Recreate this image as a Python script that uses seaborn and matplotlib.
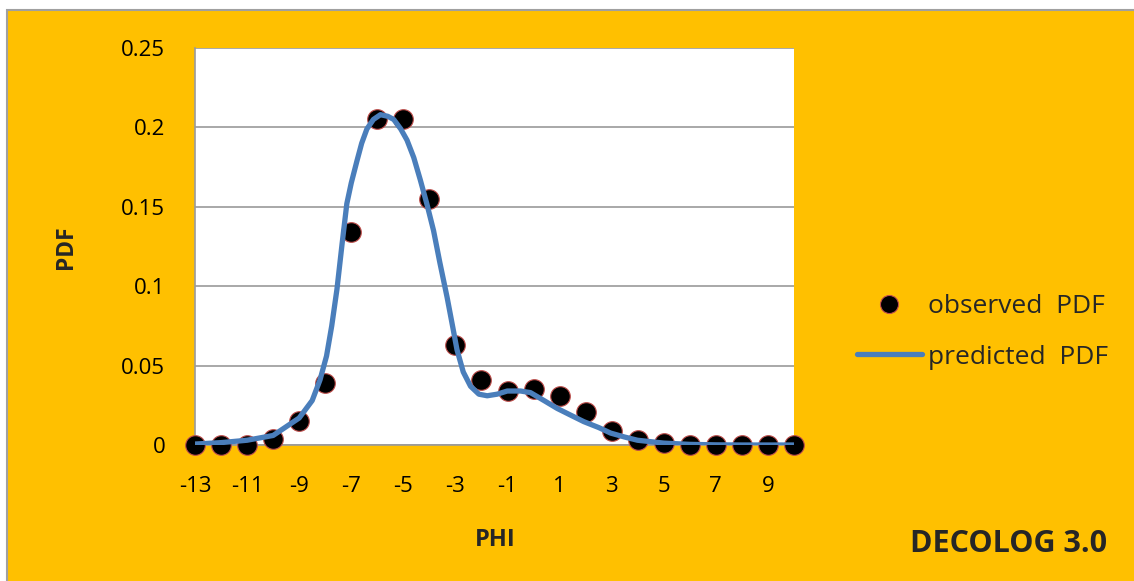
import numpy as np
import pandas as pd
import matplotlib
matplotlib.use("Agg")
import matplotlib.pyplot as plt
from matplotlib.patches import Rectangle
from matplotlib.lines import Line2D
import seaborn as sns

# observed PDF (integer PHI)
obs_phi = list(range(-13, 11))
obs_pdf = [0.0, 0.0, 0.0, 0.004, 0.015, 0.039, 0.134, 0.205, 0.205, 0.155,
           0.063, 0.041, 0.034, 0.035, 0.031, 0.021, 0.009, 0.003, 0.0015,
           0.0, 0.0, 0.0, 0.0, 0.0]

# predicted PDF (smooth curve)
pred_phi = [-13, -12, -11, -10, -9, -8.5, -8.2, -7.95, -7.75, -7.55, -7.35, -7.17,
            -7.0, -6.78, -6.6, -6.4, -6.15, -5.88, -5.6, -5.37, -5.1, -4.86, -4.6,
            -4.35, -4.1, -3.84, -3.6, -3.32, -3.1, -2.94, -2.7, -2.42, -2.1, -1.78,
            -1.4, -1.01, -0.5, -0.12, 0.4, 0.91, 1.4, 1.93, 2.5, 2.96, 3.5, 3.99,
            5, 6, 7, 8, 9, 10]
pred_pdf = [0.0006, 0.0015, 0.003, 0.006, 0.017, 0.028, 0.041, 0.056, 0.075, 0.098,
            0.127, 0.152, 0.165, 0.179, 0.190, 0.199, 0.205, 0.208, 0.207, 0.205,
            0.199, 0.192, 0.181, 0.167, 0.152, 0.135, 0.115, 0.093, 0.074, 0.060,
            0.046, 0.037, 0.032, 0.031, 0.032, 0.034, 0.034, 0.033, 0.028, 0.023,
            0.019, 0.0147, 0.011, 0.0075, 0.005, 0.003, 0.0012, 0.0004, 0.0001,
            0.0, 0.0, 0.0]

xticks = list(range(-13, 10, 2))
yticks = [0, 0.05, 0.1, 0.15, 0.2, 0.25]
ytick_labels = ["0", "0.05", "0.1", "0.15", "0.2", "0.25"]

ORANGE = "#FFC000"
BLUE = "#4A7EBB"
GRID = "#9A9A9A"

sns.set_style("white")
plt.rcParams["font.family"] = ["Open Sans", "DejaVu Sans"]

W, H = 1134, 581
fig = plt.figure(figsize=(W / 100, H / 100), dpi=100, facecolor="white")
bg = Rectangle((7 / W, -0.05), 1.1, 1 - 10 / H + 0.05,
               transform=fig.transFigure, facecolor=ORANGE,
               edgecolor="#A0A0A0", linewidth=1.5, zorder=-10)
fig.patches.append(bg)

ax = fig.add_axes([195 / W, 1 - 445 / H, (794 - 195) / W, (445 - 48) / H])
ax.set_zorder(1)
ax.set_facecolor("white")

obs = pd.DataFrame({"PHI": obs_phi, "PDF": obs_pdf})
pred = pd.DataFrame({"PHI": pred_phi, "PDF": pred_pdf})

sns.lineplot(data=pred, x="PHI", y="PDF", ax=ax, color=BLUE, linewidth=3.8,
             zorder=4, legend=False)
sns.scatterplot(data=obs, x="PHI", y="PDF", ax=ax, color="black", s=200,
                edgecolor="#C0504D", linewidth=0.8, zorder=3, legend=False,
                clip_on=False)

ax.set_xlim(-13, 10)
ax.set_ylim(0, 0.25)
ax.set_xticks(xticks)
ax.set_xticklabels([str(t) for t in xticks])
ax.set_yticks(yticks)
ax.set_yticklabels(ytick_labels)
ax.yaxis.grid(True, color=GRID, linewidth=1.2)
ax.xaxis.grid(False)
for s in ["top", "right"]:
    ax.spines[s].set_visible(False)
for s in ["left", "bottom"]:
    ax.spines[s].set_color(GRID)
    ax.spines[s].set_linewidth(1.2)
ax.tick_params(axis="both", direction="out", width=1.2, color=GRID,
               labelsize=16, labelcolor="black")
ax.tick_params(axis="x", length=6.5, pad=16)
ax.tick_params(axis="y", length=8.5, pad=13)
ax.set_axisbelow(True)

ax.set_xlabel("")
ax.set_ylabel("")
fig.text(495 / W, 1 - 540 / H, "PHI", fontsize=17, fontweight="bold",
         ha="center", va="center")
fig.text(66 / W, 1 - 247 / H, "PDF", fontsize=16.5, fontweight="bold",
         ha="center", va="center", rotation=90)
fig.text(1009 / W, 1 - 544 / H, "DECOLOG 3.0", fontsize=22, fontweight="bold",
         ha="center", va="center")

handles = [Line2D([], [], linestyle="none", marker="o", markersize=13,
                  markerfacecolor="black", markeredgecolor="#C0504D",
                  markeredgewidth=0.8),
           Line2D([], [], color=BLUE, linewidth=3.8)]
fig.legend(handles, ["observed  PDF", "predicted  PDF"], loc="center left",
           bbox_to_anchor=(857 / W, 1 - 332 / H), frameon=False, fontsize=19,
           handlelength=2.45, handletextpad=0.25, labelspacing=0.95,
           borderpad=0, borderaxespad=0)

fig.savefig("out.png", dpi=100, facecolor=fig.get_facecolor())
